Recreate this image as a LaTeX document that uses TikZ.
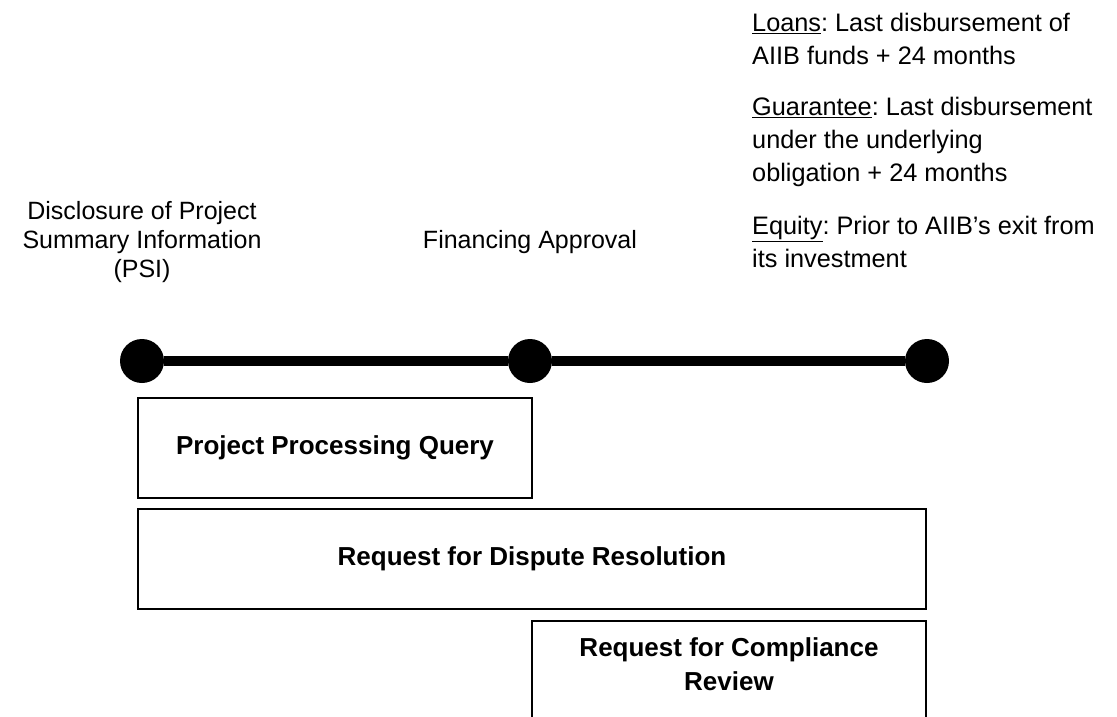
\documentclass[tikz,border=0pt]{standalone}
\usepackage{fontspec}
\setmainfont{Liberation Sans}

\begin{document}
\frenchspacing
\begin{tikzpicture}[x=1pt,y=-1pt,
  every node/.style={font=\fontsize{25}{29}\selectfont},
  phase/.style={draw=black, line width=2pt, minimum height=100pt, inner sep=0pt, align=center, font=\fontsize{26}{29}\selectfont\bfseries},
  milestone/.style={align=center}]
  \useasboundingbox (0,0) rectangle (1117,716);

  \foreach\name/\x in {0/142,1/530,2/927}{
  	\node[circle, fill=black, inner sep=0pt, minimum size=44pt] (dot\name) at (\x, 361) {};
  }
  \draw[line width=10pt] (dot0) -- (dot1) -- (dot2);

  \node[milestone] (psi) at (142, 242) {Disclosure of Project\\Summary Information\\(PSI)};
  \node[milestone] (approval) at (530, 242) {Financing Approval};
  \node[anchor=north west, align=left, inner sep=0pt, font=\fontsize{25.3}{33}\selectfont] (closing) at (752, 13)
    {\underline{Loans}: Last disbursement of\\AIIB funds + 24 months\\[18pt]
     \underline{Guarantee}: Last disbursement\\under the underlying\\obligation + 24 months\\[20pt]
     \underline{Equity}: Prior to AIIB’s exit from\\its investment};

  \node[phase, anchor=north west, minimum width=394pt] (query) at (137, 397) {Project Processing Query};
  \node[phase, anchor=north west, minimum width=788pt] (dispute) at (137, 508) {Request for Dispute Resolution};
  \node[phase, anchor=north west, minimum width=394pt] (compliance) at (531, 620) {};
  \node[align=center, font=\fontsize{26}{34}\selectfont\bfseries] (compliancetext) at ([yshift=7pt]compliance.center) {Request for Compliance\\Review};
\end{tikzpicture}
\end{document}
